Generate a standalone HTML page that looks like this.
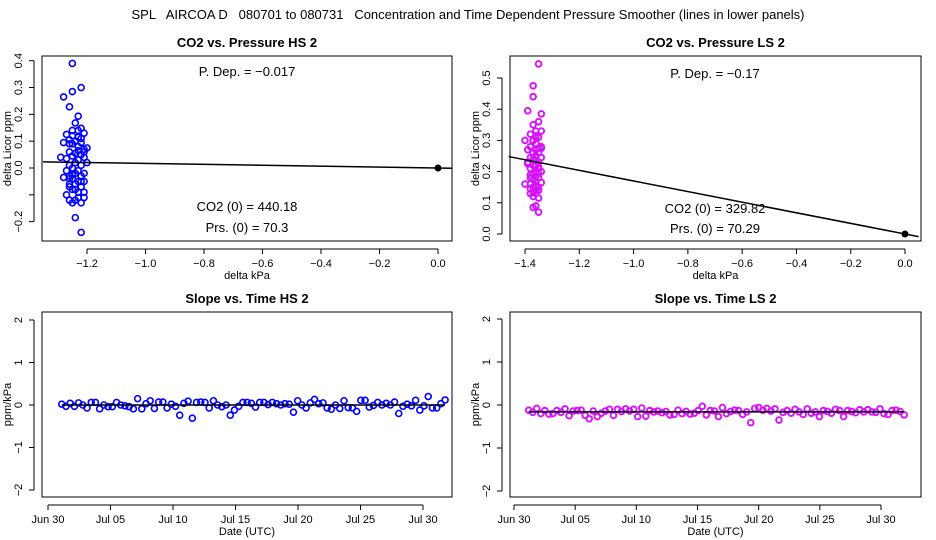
<!DOCTYPE html>
<html><head><meta charset="utf-8"><style>
body{margin:0;background:#fff;}
svg{display:block;font-family:"Liberation Sans",sans-serif;}
.t{font-size:11px;fill:#000;}
.ti{font-size:13px;font-weight:bold;fill:#000;}
</style></head><body>
<svg id="c" width="936" height="540" viewBox="0 0 936 540">
<text x="468" y="19" text-anchor="middle" style="font-size:13px;white-space:pre">SPL   AIRCOA D   080701 to 080731   Concentration and Time Dependent Pressure Smoother (lines in lower panels)</text>
</svg>
<script>
// ---- top-left data (HS) ----
const hsX=[-1.25,-1.22,-1.28,-1.25,-1.26,-1.23,-1.24,-1.22,-1.25,-1.27,-1.21,-1.23,-1.26,-1.24,-1.22,-1.25,-1.28,-1.2,-1.23,-1.26,-1.21,-1.24,-1.29,-1.22,-1.25,-1.27,-1.23,-1.21,-1.24,-1.26,-1.22,-1.25,-1.2,-1.23,-1.27,-1.24,-1.21,-1.26,-1.22,-1.25,-1.23,-1.28,-1.21,-1.24,-1.26,-1.22,-1.25,-1.23,-1.21,-1.26,-1.24,-1.22,-1.25,-1.23,-1.27,-1.21,-1.24,-1.26,-1.22,-1.25,-1.23,-1.24,-1.26,-1.21,-1.22,-1.25,-1.23,-1.26,-1.24,-1.22];
const hsY=[0.39,0.3,0.265,0.285,0.228,0.193,0.168,0.148,0.14,0.125,0.13,0.115,0.105,0.1,0.095,0.09,0.095,0.075,0.08,0.06,0.07,0.055,0.04,0.05,0.045,0.035,0.03,0.04,0.02,0.01,0.01,0.0,0.02,-0.01,-0.01,-0.02,-0.02,-0.03,-0.03,-0.04,-0.05,-0.035,-0.05,-0.06,-0.07,-0.07,-0.08,-0.09,-0.09,-0.12,-0.12,-0.13,-0.13,-0.11,-0.1,-0.11,-0.08,-0.06,0.11,0.12,0.14,0.1,0.09,0.06,-0.05,-0.025,0.065,-0.04,-0.185,-0.24];
const hsSlope=-0.017;
// ---- top-right data (LS) ----
const lsX=[-1.35,-1.37,-1.37,-1.39,-1.34,-1.35,-1.37,-1.36,-1.34,-1.38,-1.36,-1.35,-1.4,-1.37,-1.36,-1.34,-1.38,-1.35,-1.36,-1.39,-1.37,-1.35,-1.36,-1.34,-1.38,-1.37,-1.36,-1.35,-1.39,-1.37,-1.36,-1.35,-1.38,-1.36,-1.34,-1.37,-1.35,-1.38,-1.36,-1.35,-1.4,-1.37,-1.36,-1.34,-1.38,-1.36,-1.35,-1.37,-1.38,-1.36,-1.35,-1.37,-1.36,-1.38,-1.35,-1.36,-1.37,-1.35,-1.39,-1.36,-1.34,-1.37,-1.36,-1.35,-1.38,-1.37];
const lsY=[0.545,0.475,0.44,0.395,0.385,0.36,0.35,0.33,0.33,0.32,0.315,0.31,0.3,0.3,0.29,0.28,0.28,0.275,0.27,0.27,0.26,0.26,0.25,0.245,0.245,0.24,0.235,0.23,0.225,0.22,0.22,0.215,0.21,0.2,0.2,0.195,0.195,0.19,0.185,0.18,0.16,0.175,0.17,0.165,0.16,0.155,0.15,0.15,0.145,0.14,0.14,0.135,0.13,0.13,0.115,0.09,0.085,0.07,0.23,0.25,0.275,0.3,0.31,0.21,0.18,0.12];
const lsSlope=-0.17;
// ---- bottom time series (day of July, values ppm/kPa) ----
const hsT0=1.1, hsDt=0.337;
const hsSeries=[0.02,-0.03,0.04,-0.03,0.05,0.0,-0.07,0.06,0.06,-0.09,0.0,-0.04,-0.04,0.06,0.0,-0.02,-0.04,-0.09,0.15,-0.09,0.03,0.1,-0.08,0.07,0.07,-0.07,0.02,-0.03,-0.24,0.04,0.09,-0.31,0.06,0.07,0.06,-0.07,0.1,0.0,-0.04,0.0,-0.24,-0.12,-0.03,0.06,0.06,0.04,-0.05,0.06,0.06,0.01,0.06,0.03,0.0,0.03,0.02,-0.17,0.1,0.0,-0.07,0.05,0.13,0.03,0.05,-0.07,-0.1,0.0,-0.08,0.1,-0.06,-0.07,-0.15,0.11,0.11,-0.05,-0.01,0.06,0.0,0.04,0.0,0.07,-0.2,-0.03,0.02,-0.02,0.11,-0.12,-0.02,0.2,-0.07,-0.07,0.03,0.12];
const lsT0=1.2, lsDt=0.33;
const lsSeries=[-0.12,-0.17,-0.08,-0.2,-0.13,-0.21,-0.2,-0.13,-0.17,-0.09,-0.25,-0.14,-0.13,-0.12,-0.24,-0.32,-0.14,-0.27,-0.19,-0.14,-0.1,-0.24,-0.1,-0.15,-0.09,-0.14,-0.1,-0.27,-0.07,-0.26,-0.13,-0.16,-0.14,-0.18,-0.15,-0.23,-0.22,-0.12,-0.2,-0.15,-0.21,-0.19,-0.13,-0.03,-0.23,-0.13,-0.14,-0.27,-0.06,-0.2,-0.15,-0.12,-0.13,-0.22,-0.16,-0.41,-0.08,-0.06,-0.12,-0.08,-0.14,-0.09,-0.35,-0.17,-0.13,-0.19,-0.1,-0.16,-0.22,-0.09,-0.19,-0.16,-0.27,-0.13,-0.15,-0.19,-0.1,-0.13,-0.27,-0.13,-0.15,-0.18,-0.11,-0.16,-0.11,-0.16,-0.17,-0.09,-0.2,-0.22,-0.13,-0.12,-0.15,-0.23];
const hsLevel=0.0, lsLevel=-0.16;
const dateTicks=[0,5,10,15,20,25,30];
const dateLabels=["Jun 30","Jul 05","Jul 10","Jul 15","Jul 20","Jul 25","Jul 30"];
const hsXTicks=[-1.2,-1.0,-0.8,-0.6,-0.4,-0.2,0.0];
const lsXTicks=[-1.4,-1.2,-1.0,-0.8,-0.6,-0.4,-0.2,0.0];
const hsYTicks=[0.4,0.3,0.2,0.1,0.0,-0.1,-0.2];
const hsYLabels=["0.4","0.3","0.2","0.1","0.0","","\u22120.2"];
const lsYTicks=[0.5,0.4,0.3,0.2,0.1,0.0];
const slopeYTicks=[2,1,0,-1,-2];

const svg=document.getElementById('c');
const NS='http://www.w3.org/2000/svg';
function mk(tag,at,parent,txt){const e=document.createElementNS(NS,tag);for(const k in at)e.setAttribute(k,at[k]);if(txt!==undefined)e.textContent=txt;(parent||svg).appendChild(e);return e;}
const fmt=v=>{let s=v.toFixed(1);return s.replace('-','\u2212');};
function lin(d0,d1,p0,p1){return v=>p0+(v-d0)*(p1-p0)/(d1-d0);}

function panel(o){
  const g=mk('g',{});
  
  
  const tt=mk('text',{x:(o.L+o.R)/2,y:o.T-9,'text-anchor':'middle',class:'ti'},g,o.title);
  
  
  const box=mk('rect',{x:o.L,y:o.T,width:o.R-o.L,height:o.B-o.T,fill:'none',stroke:'#000','stroke-width':1},g);
  
  
  const xa=mk('g',{},g);
  
  
  const xs=o.xTicks.map(o.sx);
  mk('line',{x1:xs[0],x2:xs[xs.length-1],y1:o.B+8,y2:o.B+8,stroke:'#000'},xa);
  o.xTicks.forEach((v,i)=>{const x=o.sx(v);mk('line',{x1:x,x2:x,y1:o.B+8,y2:o.B+13,stroke:'#000'},xa);
    const t=mk('text',{x:x,y:o.B+26,'text-anchor':'middle',class:'t'},xa,o.xLabels[i]);
    
    });
  const xt=mk('text',{x:(o.L+o.R)/2,y:o.B+38,'text-anchor':'middle',class:'t'},g,o.xTitle);
  
  
  const ya=mk('g',{},g);
  
  
  const ys=o.yTicks.map(o.sy);
  mk('line',{x1:o.L-8,x2:o.L-8,y1:ys[0],y2:ys[ys.length-1],stroke:'#000'},ya);
  o.yTicks.forEach((v,i)=>{const y=o.sy(v);mk('line',{x1:o.L-13,x2:o.L-8,y1:y,y2:y,stroke:'#000'},ya);
    const t=mk('text',{x:o.L-20,y:y,'text-anchor':'middle',class:'t',transform:`rotate(-90 ${o.L-20} ${y})`},ya,o.yLabels[i]);
    
    });
  const yt=mk('text',{x:o.L-31,y:(o.T+o.B)/2,'text-anchor':'middle',class:'t',transform:`rotate(-90 ${o.L-31} ${(o.T+o.B)/2})`},g,o.yTitle);
  
  
  return g;
}
function pt(g,x,y,col,name){const c=mk('circle',{cx:x,cy:y,r:3,fill:'none',stroke:col,'stroke-width':1.6},g);
  
  
  return c;}
function label(g,x,y,s,name){const t=mk('text',{x:x,y:y,'text-anchor':'middle',style:'font-size:13px'},g,s);
  
  }

{const L=42,R=452,T=56,B=241;
 const sx=lin(-1.2,0,87,438), sy=lin(0,0.4,168,60.7);
 const g=panel({name:'panel-hs-pressure',title:'CO2 vs. Pressure HS 2',L,R,T,B,sx,sy,xTicks:hsXTicks,xLabels:hsXTicks.map(fmt),yTicks:hsYTicks,yLabels:hsYLabels,xTitle:'delta kPa',yTitle:'delta Licor ppm'});
 hsX.forEach((x,i)=>pt(g,sx(x),sy(hsY[i]),'#0000ff','hs-point'));
 const x0=-1.35,x1=0.05;
 const ln=mk('line',{x1:sx(x0),y1:sy(hsSlope*x0),x2:sx(x1),y2:sy(hsSlope*x1),stroke:'#000','stroke-width':1.5},g);
 
 
 mk('circle',{cx:sx(0),cy:sy(0),r:3,fill:'#000',stroke:'#000'},g);
 label(g,247,76,'P. Dep. =  \u22120.017','p-dep-label');
 label(g,247,211,'CO2 (0) =  440.18','co2-zero-label');
 label(g,247,232,'Prs. (0) =  70.3','prs-zero-label');}
{const L=510,R=921,T=56,B=241;
 const sx=lin(-1.4,0,525,905), sy=lin(0,0.5,234,78);
 const g=panel({name:'panel-ls-pressure',title:'CO2 vs. Pressure LS 2',L,R,T,B,sx,sy,xTicks:lsXTicks,xLabels:lsXTicks.map(fmt),yTicks:lsYTicks,yLabels:lsYTicks.map(fmt),xTitle:'delta kPa',yTitle:'delta Licor ppm'});
 lsX.forEach((x,i)=>{pt(g,sx(x),sy(lsY[i]),'#ff00ff','ls-point');mk('circle',{cx:sx(x),cy:sy(lsY[i]),r:2.2,fill:'none',stroke:'#6040ff','stroke-width':0.6},g);});
 const x0=-1.46,x1=0.05;
 const ln=mk('line',{x1:sx(x0),y1:sy(lsSlope*x0),x2:sx(x1),y2:sy(lsSlope*x1),stroke:'#000','stroke-width':1.5},g);
 
 
 mk('circle',{cx:sx(0),cy:sy(0),r:3,fill:'#000',stroke:'#000'},g);
 label(g,715,78,'P. Dep. =  \u22120.17','p-dep-label');
 label(g,715,213,'CO2 (0) =  329.82','co2-zero-label');
 label(g,715,233,'Prs. (0) =  70.29','prs-zero-label');}
{const L=42,R=452,T=312,B=497;
 const sx=lin(0,30,48,423), sy=lin(0,2,405,320);
 const g=panel({name:'panel-hs-slope-time',title:'Slope vs. Time HS 2',L,R,T,B,sx,sy,xTicks:dateTicks,xLabels:dateLabels,yTicks:slopeYTicks,yLabels:slopeYTicks.map(v=>String(v).replace('-','\u2212')),xTitle:'Date (UTC)',yTitle:'ppm/kPa'});
 hsSeries.forEach((v,i)=>pt(g,sx(hsT0+i*hsDt),sy(v),'#0000ff','hs-slope-point'));
 const ln=mk('line',{x1:sx(hsT0),y1:sy(hsLevel),x2:sx(hsT0+(hsSeries.length-1)*hsDt),y2:sy(hsLevel),stroke:'#000','stroke-width':1.5},g);
 
 }
{const L=510,R=921,T=312,B=497;
 const sx=lin(0,30,514,881), sy=lin(0,2,405,319);
 const g=panel({name:'panel-ls-slope-time',title:'Slope vs. Time LS 2',L,R,T,B,sx,sy,xTicks:dateTicks,xLabels:dateLabels,yTicks:slopeYTicks,yLabels:slopeYTicks.map(v=>String(v).replace('-','\u2212')),xTitle:'Date (UTC)',yTitle:'ppm/kPa'});
 lsSeries.forEach((v,i)=>{pt(g,sx(lsT0+i*lsDt),sy(v),'#ff00ff','ls-slope-point');mk('circle',{cx:sx(lsT0+i*lsDt),cy:sy(v),r:2.2,fill:'none',stroke:'#6040ff','stroke-width':0.6},g);});
 const ln=mk('line',{x1:sx(lsT0),y1:sy(lsLevel),x2:sx(lsT0+(lsSeries.length-1)*lsDt),y2:sy(lsLevel),stroke:'#000','stroke-width':1.5},g);
 
 }
</script>
</body></html>
